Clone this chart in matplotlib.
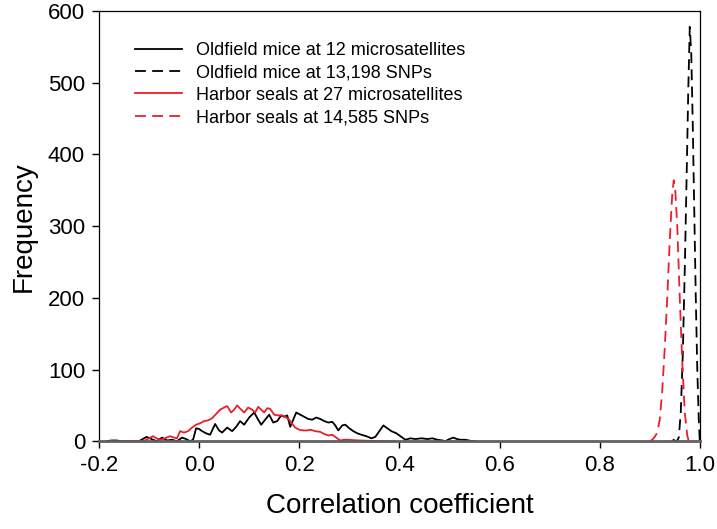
import matplotlib.pyplot as plt
import numpy as np

plt.rcParams['font.family'] = ['Liberation Sans', 'DejaVu Sans']

# Oldfield mice, 12 microsatellites
mice_ms_x = [-0.185, -0.175, -0.165, -0.155, -0.12, -0.105, -0.095, -0.085, -0.074, -0.064,
             -0.054, -0.044, -0.034, -0.026, -0.018, -0.012, -0.006, 0.000, 0.006, 0.014,
             0.022, 0.032, 0.040, 0.046, 0.056, 0.066, 0.074, 0.082, 0.090, 0.100,
             0.110, 0.118, 0.124, 0.132, 0.140, 0.148, 0.156, 0.164, 0.170, 0.176,
             0.182, 0.188, 0.194, 0.202, 0.210, 0.218, 0.226, 0.234, 0.242, 0.250,
             0.258, 0.266, 0.272, 0.278, 0.286, 0.292, 0.300, 0.308, 0.316, 0.324,
             0.334, 0.344, 0.352, 0.360, 0.368, 0.376, 0.384, 0.394, 0.404, 0.412,
             0.422, 0.432, 0.444, 0.456, 0.466, 0.476, 0.486, 0.492, 0.500, 0.508,
             0.515, 0.522, 0.532, 0.542, 0.550]
mice_ms_y = [0, 1, 1, 0, 0, 6, 3, 0, 5, 1,
             2, 0, 5, 3, 0, 2, 18, 17, 14, 11,
             9, 24, 15, 12, 19, 14, 20, 28, 23, 33,
             40, 30, 23, 30, 37, 26, 28, 36, 34, 36,
             20, 30, 40, 37, 34, 31, 30, 33, 31, 28,
             26, 27, 22, 15, 22, 23, 18, 14, 11, 9,
             7, 4, 6, 14, 22, 18, 14, 11, 6, 2,
             4, 3, 4, 3, 4, 2, 1, 0, 3, 5,
             3, 2, 2, 0.5, 0]

# Oldfield mice, 13,198 SNPs
mice_snp_x = [0.945, 0.948, 0.950, 0.955, 0.958, 0.962, 0.966, 0.970, 0.974, 0.977,
              0.980, 0.983, 0.986, 0.989, 0.992, 0.995, 0.998, 1.000]
mice_snp_y = [0, 2, 0, 1, 5, 40, 120, 240, 380, 490,
              578, 540, 440, 320, 200, 100, 30, 0]

# Harbor seals, 27 microsatellites
seal_ms_x = [-0.145, -0.125, -0.108, -0.100, -0.092, -0.085, -0.078, -0.068, -0.058, -0.050,
             -0.044, -0.038, -0.030, -0.022, -0.014, -0.006, 0.002, 0.010, 0.018, 0.026,
             0.034, 0.042, 0.050, 0.056, 0.064, 0.070, 0.076, 0.084, 0.090, 0.098,
             0.106, 0.112, 0.118, 0.124, 0.130, 0.136, 0.142, 0.150, 0.158, 0.166,
             0.172, 0.180, 0.186, 0.192, 0.200, 0.208, 0.216, 0.222, 0.232, 0.242,
             0.250, 0.258, 0.266, 0.274, 0.282, 0.290, 0.298, 0.308, 0.320, 0.340,
             0.390]
seal_ms_y = [0, 0, 1, 4, 7, 4, 2, 4, 7, 5,
             4, 14, 12, 14, 19, 23, 25, 28, 29, 32,
             38, 44, 47, 49, 40, 44, 50, 44, 40, 47,
             44, 40, 48, 44, 40, 46, 45, 37, 36, 36,
             34, 30, 24, 19, 16, 15, 15, 16, 14, 13,
             10, 8, 9, 5, 1, 2, 2, 1.5, 1, 0.5,
             0]

# Harbor seals, 14,585 SNPs
seal_snp_x = [0.900, 0.905, 0.910, 0.915, 0.920, 0.925, 0.930, 0.935, 0.940, 0.945,
              0.948, 0.951, 0.955, 0.960, 0.965, 0.970, 0.975, 0.978]
seal_snp_y = [0, 2, 6, 12, 30, 70, 130, 200, 280, 345,
              364, 350, 300, 200, 110, 40, 8, 0]

red = '#e8202a'

fig = plt.figure(figsize=(7.17, 5.29), dpi=100)
ax = fig.add_axes([0.138, 0.166, 0.838, 0.813])

ax.plot(mice_ms_x, mice_ms_y, color='black', lw=1.3,
        label='Oldfield mice at 12 microsatellites')
ax.plot(mice_snp_x, mice_snp_y, color='black', lw=1.3, dashes=(6, 3.5),
        label='Oldfield mice at 13,198 SNPs')
ax.plot(seal_ms_x, seal_ms_y, color=red, lw=1.3,
        label='Harbor seals at 27 microsatellites')
ax.plot(seal_snp_x, seal_snp_y, color=red, lw=1.3, dashes=(6, 3.5),
        label='Harbor seals at 14,585 SNPs')

ax.set_xlim(-0.2, 1.0)
ax.set_ylim(0, 600)
ax.set_xticks(np.arange(-0.2, 1.01, 0.2))
ax.set_xticklabels(['-0.2', '0.0', '0.2', '0.4', '0.6', '0.8', '1.0'])
ax.set_yticks(range(0, 601, 100))
ax.tick_params(direction='out', length=5, width=1, labelsize=16, pad=5)

for s in ['left', 'top', 'right']:
    ax.spines[s].set_linewidth(0.9)
ax.spines['bottom'].set_color('#606060')
ax.spines['bottom'].set_linewidth(2)

ax.set_xlabel('Correlation coefficient', fontsize=20, labelpad=12)
ax.set_ylabel('Frequency', fontsize=20, labelpad=8)

ax.legend(loc='upper left', bbox_to_anchor=(0.048, 0.945), frameon=False, fontsize=13,
          handlelength=2.6, handletextpad=0.8, labelspacing=0.3, borderaxespad=0)

fig.savefig('out.png', dpi=100)
